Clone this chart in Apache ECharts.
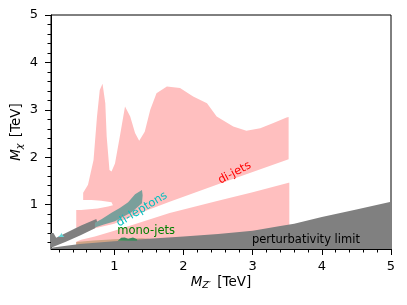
<!DOCTYPE html>
<html><head><meta charset="utf-8">
<script src="https://cdn.jsdelivr.net/npm/echarts@6/dist/echarts.min.js"></script>
<style>html,body{margin:0;padding:0;background:#fff}#c{width:407px;height:305px}</style>
</head><body><div id="c"></div>
<script>
// Axis ticks (TeV)
const xTicks = [1, 2, 3, 4, 5];
const yTicks = [1, 2, 3, 4, 5];
const xMinorTicks = [0.2,0.4,0.6,0.8,1.2,1.4,1.6,1.8,2.2,2.4,2.6,2.8,3.2,3.4,3.6,3.8,4.2,4.4,4.6,4.8];
const yMinorTicks = [0.2,0.4,0.6,0.8,1.2,1.4,1.6,1.8,2.2,2.4,2.6,2.8,3.2,3.4,3.6,3.8,4.2,4.4,4.6,4.8];

// Excluded regions, outlines as [M_Z', M_chi] in TeV
const dijetsUpper = [[0.55,1.25],[0.62,1.42],[0.70,1.94],[0.75,2.86],[0.79,3.42],[0.83,3.55],[0.87,3.14],[0.89,2.44],[0.93,1.73],[0.96,1.70],[1.01,1.87],[1.08,2.44],[1.155,3.07],[1.23,2.86],[1.30,2.51],[1.36,2.35],[1.44,2.54],[1.52,3.0],[1.61,3.35],[1.76,3.49],[1.95,3.46],[2.14,3.28],[2.34,3.14],[2.48,2.86],[2.72,2.65],[2.91,2.56],[3.11,2.61],[3.30,2.72],[3.49,2.84],[3.52,2.85],[3.52,1.96],[2.5,1.43],[1.8,1.06],[1.4,0.84],[1.0,0.60],[0.72,0.50],[0.52,0.38],[0.45,0.35],[0.45,0.89],[0.52,0.89],[0.76,0.92],[0.91,0.96],[0.98,0.99],[0.96,1.05],[0.81,1.08],[0.67,1.10],[0.55,1.10]];
const dijetsLower = [[0.45,0.15],[0.45,0.22],[0.52,0.26],[0.72,0.33],[1.0,0.45],[1.8,0.825],[2.5,1.08],[3.0,1.26],[3.52,1.46],[3.53,1.46],[3.53,0.5],[3.0,0.4],[2.0,0.3],[1.0,0.2],[0.45,0.15]];
const dileptonsSpike = [[0.19,0.32],[0.225,0.37],[0.235,0.41],[0.245,0.37],[0.27,0.33],[0.28,0.32]];
const dileptonsBand = [[0.72,0.62],[0.82,0.70],[0.96,0.83],[1.08,0.93],[1.2,1.05],[1.3,1.22],[1.40,1.31],[1.41,1.2],[1.40,1.03],[1.25,0.84],[1.01,0.65],[0.85,0.58],[0.72,0.52]];
const monojetsBand = [[0.45,0.17],[0.45,0.21],[0.7,0.245],[1.0,0.27],[1.4,0.29],[1.5,0.28],[1.5,0.22],[1.0,0.20],[0.45,0.15]];
const monojetsBlobs = [[1.05,0.24],[1.1,0.30],[1.15,0.31],[1.2,0.28],[1.27,0.31],[1.33,0.27],[1.33,0.24]];
const perturbativity = [[0.085,0.065],[0.085,0.09],[0.5,0.17],[1.0,0.23],[1.5,0.28],[2.0,0.33],[2.5,0.38],[3.0,0.45],[3.4,0.55],[3.6,0.60],[4.0,0.74],[4.5,0.90],[5.0,1.06],[5.0,0.065]];
const perturbativityStrip = [[0.085,0.09],[0.085,0.40],[0.12,0.40],[0.16,0.30],[0.52,0.56],[0.74,0.70],[0.76,0.60],[0.72,0.50],[0.52,0.36],[0.3,0.22]];

const X_MIN = 0.085, X_MAX = 5, Y_MIN = 0.065, Y_MAX = 5;
const FONT = '"DejaVu Sans", sans-serif';

function poly(points, color) {
  return {
    type: 'custom', coordinateSystem: 'cartesian2d', silent: true, animation: false,
    data: [points[0]],
    renderItem: (params, api) => ({
      type: 'polygon',
      shape: { points: points.map(p => api.coord(p)) },
      style: { fill: color, stroke: null }
    })
  };
}

const annotations = [
  { text: 'di-jets', at: [2.74, 1.67], rot: 28, color: '#ff0000' },
  { text: 'di-leptons', at: [1.40, 0.90], rot: 31, color: '#00bfbf' },
  { text: 'mono-jets', at: [1.46, 0.45], rot: 0, color: '#008000' },
  { text: 'perturbativity limit', at: [3.77, 0.255], rot: 0, color: '#000000' }
];

const nameRich = {
  i: { fontStyle: 'italic', fontSize: 13.5, fontFamily: FONT },
  s: { fontStyle: 'italic', fontSize: 9.5, fontFamily: FONT, padding: [8, 2, 0, 0] }
};

const chart = echarts.init(document.getElementById('c'), null, { renderer: 'canvas' });
const axisCommon = { type: 'value', splitLine: { show: false }, nameMoveOverlap: false };
chart.setOption({
  animation: false,
  grid: { left: 51, right: 16, top: 15, bottom: 56, containLabel: false, outerBoundsMode: 'none',
    show: true, borderColor: '#000', borderWidth: 1, backgroundColor: 'transparent' },
  xAxis: [
    Object.assign({}, axisCommon, {
      min: X_MIN, max: X_MAX, position: 'bottom',
      axisLine: { show: true, lineStyle: { color: '#000', width: 1 } },
      axisTick: { show: true, customValues: xTicks, length: 6, lineStyle: { color: '#000' } },
      axisLabel: { customValues: xTicks, color: '#000', fontSize: 13, fontFamily: FONT, margin: 11 },
      name: '{i|M}{s|Z′} [TeV]', nameLocation: 'middle', nameGap: 24,
      nameTextStyle: { color: '#000', fontSize: 13.5, fontFamily: FONT, rich: nameRich }
    }),
    Object.assign({}, axisCommon, {
      min: X_MIN, max: X_MAX, position: 'bottom',
      axisLine: { show: false },
      axisTick: { show: true, customValues: xMinorTicks, length: 3.5, lineStyle: { color: '#000' } },
      axisLabel: { show: false }
    })
  ],
  yAxis: [
    Object.assign({}, axisCommon, {
      min: Y_MIN, max: Y_MAX, position: 'left',
      axisLine: { show: true, lineStyle: { color: '#000', width: 1 } },
      axisTick: { show: true, customValues: yTicks, length: 6, lineStyle: { color: '#000' } },
      axisLabel: { customValues: yTicks, color: '#000', fontSize: 13, fontFamily: FONT, margin: 13 },
      name: '{i|M}{s|χ} [TeV]', nameLocation: 'middle', nameGap: 26, nameRotate: 90,
      nameTextStyle: { color: '#000', fontSize: 13.5, fontFamily: FONT, rich: nameRich }
    }),
    Object.assign({}, axisCommon, {
      min: Y_MIN, max: Y_MAX, position: 'left',
      axisLine: { show: false },
      axisTick: { show: true, customValues: yMinorTicks, length: 3.5, lineStyle: { color: '#000' } },
      axisLabel: { show: false }
    })
  ],
  series: [
    poly(dijetsUpper, '#ffbfbf'),
    poly(dijetsLower, '#ffbfbf'),
    poly(monojetsBand, '#cfa386'),
    poly(perturbativity, '#808080'),
    poly(perturbativityStrip, '#808080'),
    poly(dileptonsSpike, '#66d6d6'),
    poly(monojetsBlobs, '#3d8a5e'),
    poly(dileptonsBand, '#7a9f9b'),
    {
      type: 'custom', coordinateSystem: 'cartesian2d', silent: true, animation: false,
      data: annotations.map(a => a.at),
      renderItem: (params, api) => {
        const a = annotations[params.dataIndex];
        const p = api.coord(a.at);
        return { type: 'text', x: p[0], y: p[1], rotation: a.rot * Math.PI / 180,
          style: { text: a.text, fill: a.color, font: '11.5px ' + FONT, align: 'center', verticalAlign: 'middle' } };
      }
    }
  ]
});
</script></body></html>
